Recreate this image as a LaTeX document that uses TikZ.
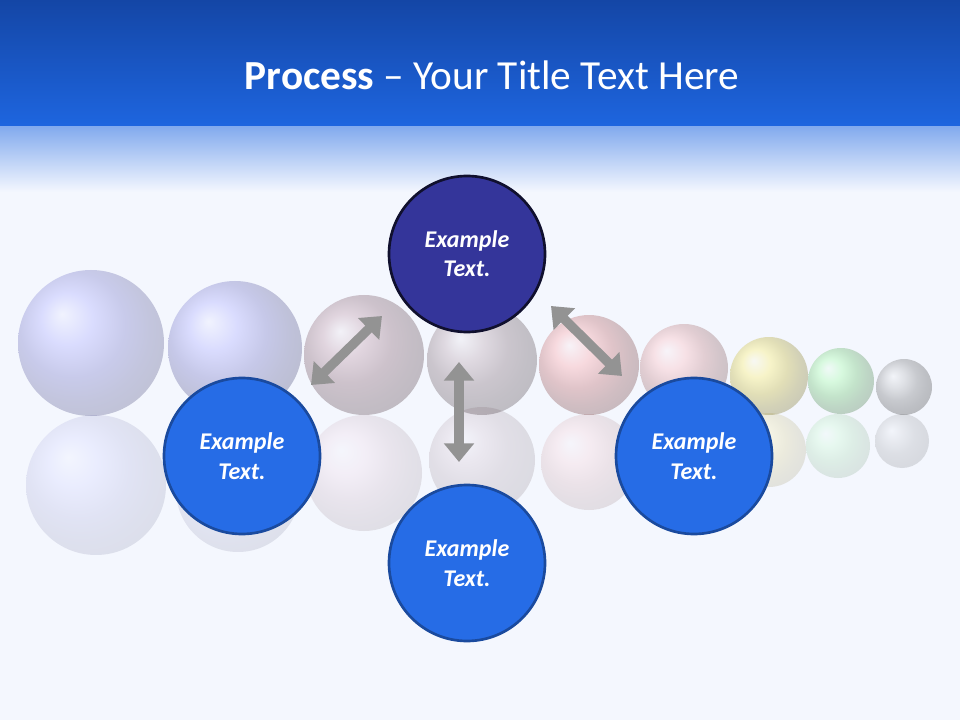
\documentclass[tikz,border=0pt]{standalone}
\usepackage{fontspec}
\setmainfont{Carlito}
\usetikzlibrary{arrows.meta,shadings}
\definecolor{bg}{HTML}{F4F7FE}
\definecolor{hdtop}{HTML}{1446A6}
\definecolor{hdmid}{HTML}{1E66E0}
\definecolor{navy}{HTML}{34359A}
\definecolor{mblue}{HTML}{266CE6}
\definecolor{mborder}{HTML}{1A4A9E}
\tikzset{
 main/.style={circle,minimum size=156*0.75pt,line width=2pt,draw=#1,text=white,font=\bfseries\itshape\fontsize{18}{22}\selectfont,align=center,inner sep=0pt},
 dbl/.style={{Triangle[length=14pt,width=22pt]}-{Triangle[length=14pt,width=22pt]},line width=7pt,draw=gray!85},
}
\newcommand{\ball}[4]{\shade[ball color=#4,opacity=#3] (#1) circle[radius=#2];}
\begin{document}
\begin{tikzpicture}[x=0.75pt,y=-0.75pt]
\useasboundingbox (0,0) rectangle (960,720);
\fill[bg] (0,0) rectangle (960,720);
\shade[top color=hdtop,bottom color=hdmid] (0,0) rectangle (960,128);
\shade[top color=hdmid!55!white,bottom color=bg] (0,127) rectangle (960,192);
\node[text=white,font=\fontsize{31}{36}\selectfont] (title) at (492,75) {\textbf{Process} – Your Title Text Here};
% reflections
\ball{96,485}{70}{0.12}{blue!50!white}
\ball{238,490}{62}{0.12}{blue!40!white}
\ball{364,473}{58}{0.13}{purple!40!white}
\ball{482,460}{53}{0.13}{purple!30!gray}
\ball{589,462}{48}{0.13}{red!50!white}
\ball{684,455}{42}{0.13}{red!40!white}
\ball{769,450}{37}{0.13}{yellow!70!orange}
\ball{838,446}{32}{0.13}{green!60!white}
\ball{902,441}{27}{0.15}{gray}
% spheres
\ball{91,343}{73}{0.25}{blue!60!white}
\ball{235,348}{67}{0.28}{blue!55!white}
\ball{364,355}{60}{0.28}{purple!35!gray}
\ball{482,360}{55}{0.28}{purple!20!gray}
\ball{589,365}{50}{0.3}{red!55!white}
\ball{684,368}{44}{0.28}{red!45!white}
\ball{769,376}{39}{0.28}{yellow!80!orange}
\ball{841,381}{33}{0.28}{green!60!white}
\ball{904,387}{28}{0.32}{gray!80}
% main nodes
\node[main=black!70!navy,fill=navy] (top) at (467,254) {Example\\Text.};
\node[main=mborder,fill=mblue] (left) at (242,456) {Example\\Text.};
\node[main=mborder,fill=mblue] (right) at (694,456) {Example\\Text.};
\node[main=mborder,fill=mblue] (bot) at (467,563) {Example\\Text.};
\coordinate (a1) at (311,385); \coordinate (a2) at (382,316);
\coordinate (b1) at (459,362); \coordinate (b2) at (459,462);
\coordinate (c1) at (551,306); \coordinate (c2) at (622,376);
\draw[dbl] (a1) -- (a2);
\draw[dbl] (b1) -- (b2);
\draw[dbl] (c1) -- (c2);
\end{tikzpicture}
\end{document}
